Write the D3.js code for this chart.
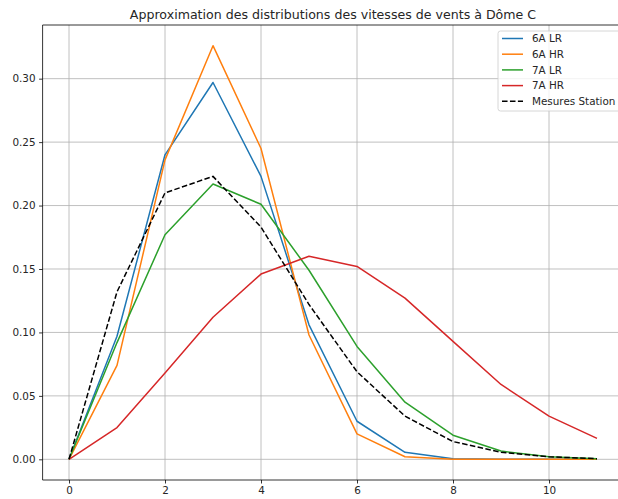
<!DOCTYPE html>
<html>
<head>
<meta charset="utf-8">
<script src="https://cdn.jsdelivr.net/npm/d3@7"></script>
<style>
  html, body { margin: 0; padding: 0; background: #fff; overflow: hidden; }
  svg { display: block; font-family: "DejaVu Sans", sans-serif; }
</style>
</head>
<body>
<svg id="chart" width="618" height="499"></svg>
<script>
// Wind speed classes (m/s)
const speeds = [0, 1, 2, 3, 4, 5, 6, 7, 8, 9, 10, 11];

// Probability of each wind speed class
const lr6A = [0, 0.097, 0.240, 0.297, 0.223, 0.106, 0.030, 0.0055, 0.0004, 0, 0, 0];
const hr6A = [0, 0.074, 0.236, 0.326, 0.245, 0.098, 0.020, 0.002, 0, 0, 0, 0];
const lr7A = [0, 0.092, 0.177, 0.217, 0.201, 0.149, 0.089, 0.045, 0.019, 0.0065, 0.002, 0.0005];
const hr7A = [0, 0.025, 0.068, 0.112, 0.146, 0.160, 0.152, 0.127, 0.093, 0.059, 0.034, 0.0165];
const station = [0, 0.132, 0.210, 0.223, 0.183, 0.122, 0.069, 0.034, 0.014, 0.0055, 0.002, 0.0005];

const seriesNames = ["6A LR", "6A HR", "7A LR", "7A HR", "Mesures Station"];
const seriesValues = [lr6A, hr6A, lr7A, hr7A, station];
const seriesColors = ["#1f77b4", "#ff7f0e", "#2ca02c", "#d62728", "#000000"];
const seriesDash = [null, null, null, null, "5.55,2.4"];

const xTicks = [0, 2, 4, 6, 8, 10];
const yTicks = [0.00, 0.05, 0.10, 0.15, 0.20, 0.25, 0.30];

const title = "Approximation des distributions des vitesses de vents à Dôme C";

const svg = d3.select("#chart");
const plot = { left: 42.6, right: 623.4, top: 25, bottom: 480 };
const tickFont = "10.4px";

// Axis ranges padded by 5% of the data span on each side
const xExt = d3.extent(speeds);
const xPad = (xExt[1] - xExt[0]) * 0.05;
const allY = seriesValues.flat();
const yExt = d3.extent(allY);
const yPad = (yExt[1] - yExt[0]) * 0.05;

const x = d3.scaleLinear().domain([xExt[0] - xPad, xExt[1] + xPad]).range([plot.left, plot.right]);
const y = d3.scaleLinear().domain([yExt[0] - yPad, yExt[1] + yPad]).range([plot.bottom, plot.top]);

const defs = svg.append("defs");
defs.append("clipPath").attr("id", "plotClip")
  .append("rect")
  .attr("x", plot.left).attr("y", plot.top)
  .attr("width", plot.right - plot.left).attr("height", plot.bottom - plot.top);

// Grid lines
const grid = svg.append("g");
grid.selectAll(".gx").data(xTicks).join("line")
  .attr("x1", d => x(d)).attr("x2", d => x(d))
  .attr("y1", plot.top).attr("y2", plot.bottom)
  .attr("stroke", "#b0b0b0").attr("stroke-width", 0.8);
grid.selectAll(".gy").data(yTicks).join("line")
  .attr("x1", plot.left).attr("x2", plot.right)
  .attr("y1", d => y(d)).attr("y2", d => y(d))
  .attr("stroke", "#b0b0b0").attr("stroke-width", 0.8);

// Series lines
const line = d3.line().x((d, i) => x(speeds[i])).y(d => y(d));
const lines = svg.append("g").attr("clip-path", "url(#plotClip)");
seriesValues.forEach((vals, k) => {
  lines.append("path")
    .datum(vals)
    .attr("d", line)
    .attr("fill", "none")
    .attr("stroke", seriesColors[k])
    .attr("stroke-width", 1.5)
    .attr("stroke-linejoin", "round")
    .attr("stroke-dasharray", seriesDash[k]);
});

// Axes
const xAxis = d3.axisBottom(x).tickValues(xTicks).tickFormat(d3.format("d"))
  .tickSizeInner(3.5).tickSizeOuter(0).tickPadding(3.5);
const yAxis = d3.axisLeft(y).tickValues(yTicks).tickFormat(d3.format(".2f"))
  .tickSizeInner(3.5).tickSizeOuter(0).tickPadding(3.5);

const gx = svg.append("g").attr("transform", `translate(0,${plot.bottom})`).call(xAxis);
const gy = svg.append("g").attr("transform", `translate(${plot.left},0)`).call(yAxis);
[gx, gy].forEach(g => {
  g.select(".domain").remove();
  g.selectAll(".tick line").attr("stroke", "#000").attr("stroke-width", 0.8);
  g.selectAll(".tick text").attr("fill", "#262626")
    .style("font-family", "DejaVu Sans").style("font-size", tickFont);
});

// Spines
svg.append("line").attr("x1", plot.left).attr("x2", plot.left)
  .attr("y1", plot.top).attr("y2", plot.bottom)
  .attr("stroke", "#000").attr("stroke-width", 0.8);
svg.append("line").attr("x1", plot.left).attr("x2", plot.right)
  .attr("y1", plot.bottom).attr("y2", plot.bottom)
  .attr("stroke", "#000").attr("stroke-width", 0.8);
svg.append("line").attr("x1", plot.left).attr("x2", plot.right)
  .attr("y1", plot.top).attr("y2", plot.top)
  .attr("stroke", "#000").attr("stroke-width", 0.8);
svg.append("line").attr("x1", plot.right).attr("x2", plot.right)
  .attr("y1", plot.top).attr("y2", plot.bottom)
  .attr("stroke", "#000").attr("stroke-width", 0.8);

// Title
svg.append("text")
  .attr("x", (plot.left + plot.right) / 2)
  .attr("y", 19)
  .attr("text-anchor", "middle")
  .attr("fill", "#262626")
  .style("font-family", "DejaVu Sans")
  .style("font-size", "12.6px")
  .text(title);

// Legend
const legend = svg.append("g").attr("transform", "translate(498,31)");
legend.append("rect")
  .attr("x", 0).attr("y", 0)
  .attr("width", 140).attr("height", 80)
  .attr("rx", 2.5)
  .attr("fill", "#fff").attr("fill-opacity", 0.8)
  .attr("stroke", "#cccccc").attr("stroke-width", 0.8);
seriesNames.forEach((name, k) => {
  const ly = 7.5 + k * 15.7;
  legend.append("line")
    .attr("x1", 4).attr("x2", 25)
    .attr("y1", ly).attr("y2", ly)
    .attr("stroke", seriesColors[k])
    .attr("stroke-width", 1.5)
    .attr("stroke-dasharray", seriesDash[k]);
  legend.append("text")
    .attr("x", 34).attr("y", ly)
    .attr("dy", "0.35em")
    .attr("fill", "#262626")
    .style("font-family", "DejaVu Sans")
    .style("font-size", tickFont)
    .text(name);
});
</script>
</body>
</html>
